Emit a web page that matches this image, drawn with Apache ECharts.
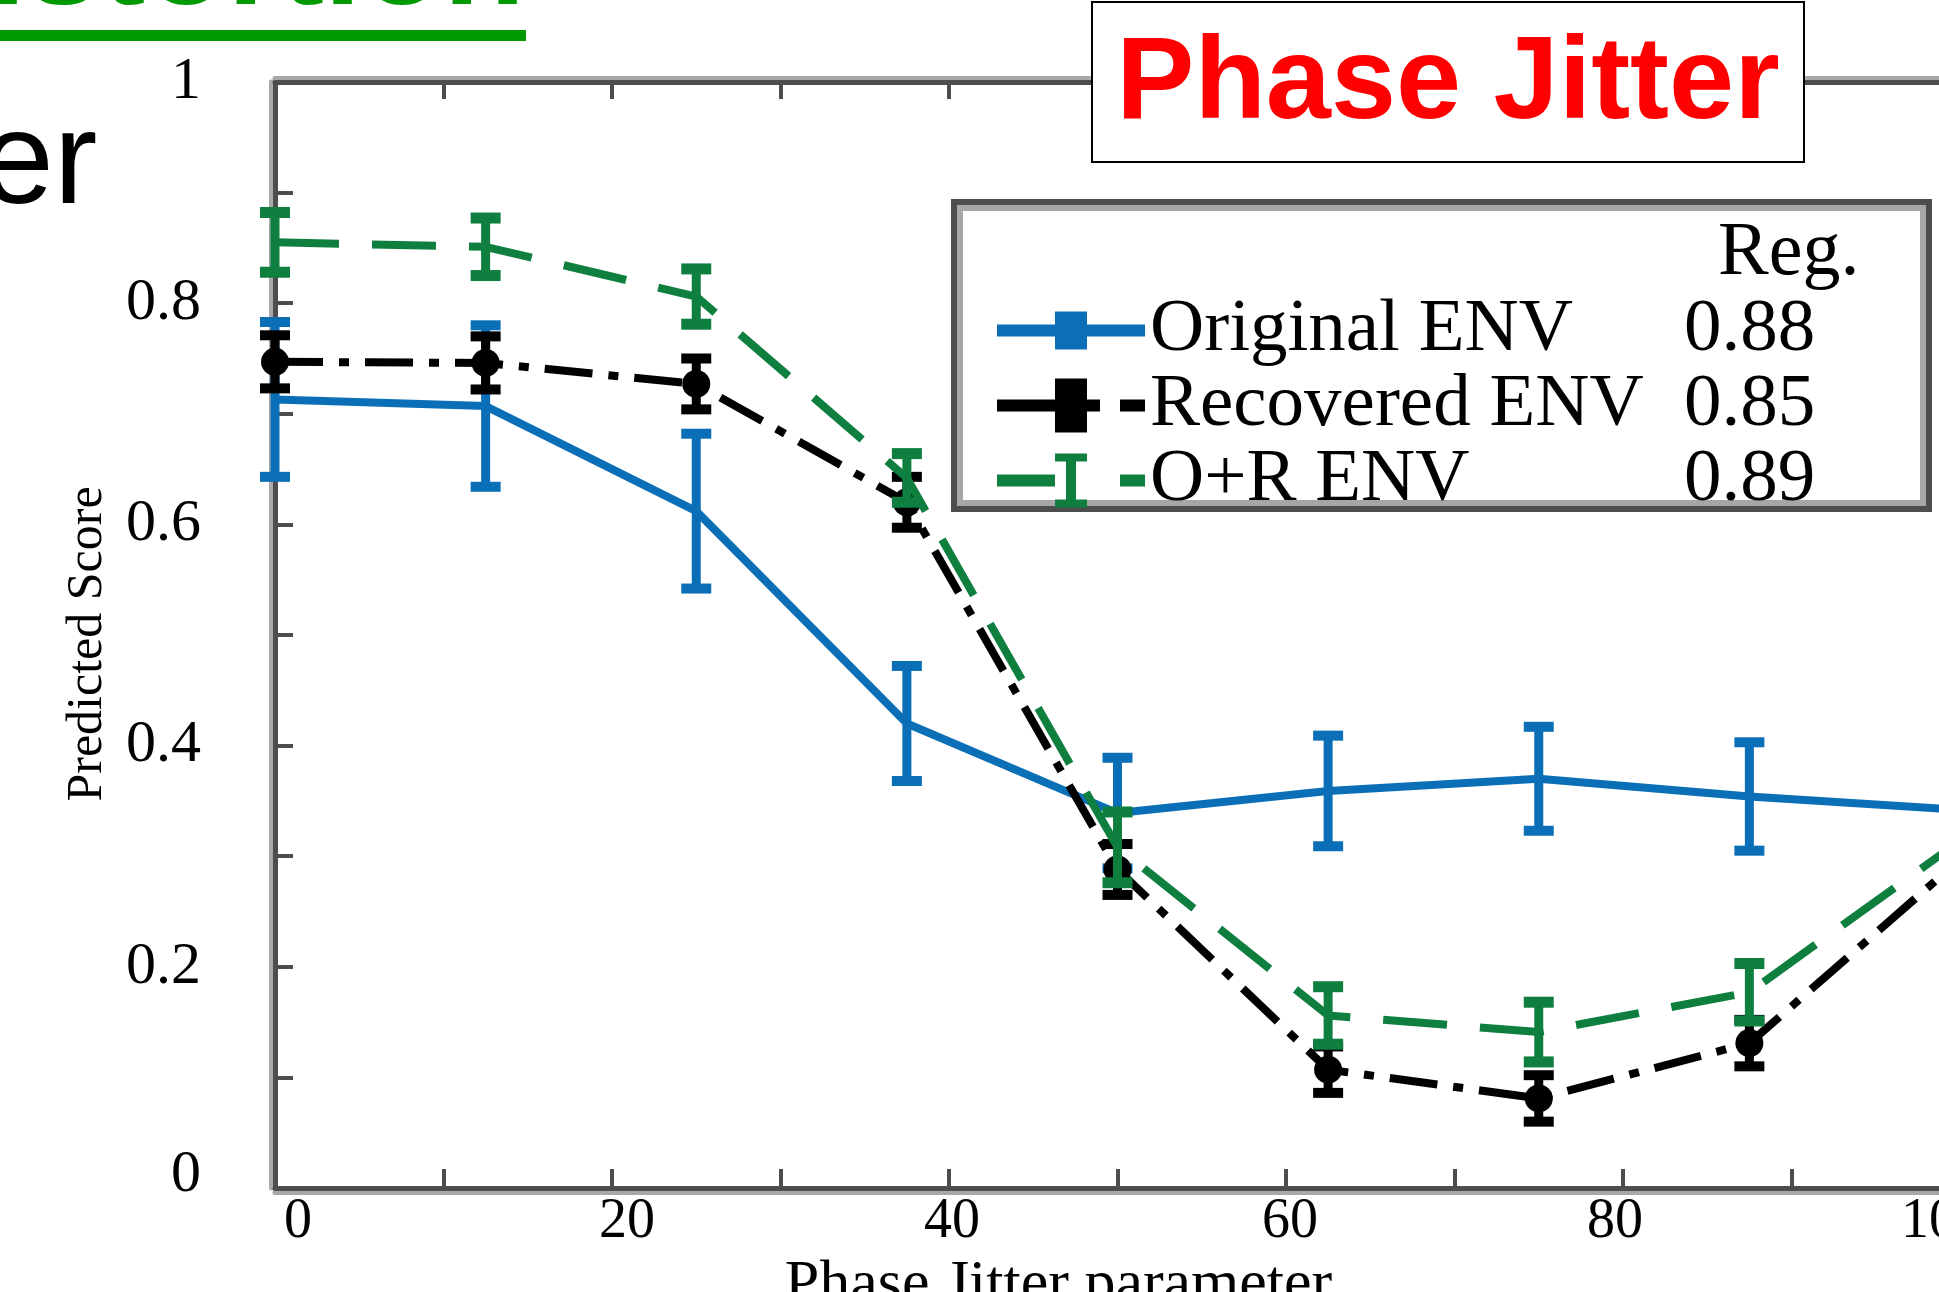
<!DOCTYPE html>
<html>
<head>
<meta charset="utf-8">
<title>Phase Jitter</title>
<script src="https://cdn.jsdelivr.net/npm/echarts/dist/echarts.min.js"></script>
<style>
    html,body{margin:0;padding:0;background:#fff;}
    #chart{width:1939px;height:1292px;}
</style>
</head>
<body>
<div id="chart"></div>
<script>
// phase jitter parameter values
const jitter = [0, 12.5, 25, 37.5, 50, 62.5, 75, 87.5, 100];

// predicted score (mean) and half error bar per series
const originalEnv = [0.713, 0.707, 0.612, 0.420, 0.339, 0.359, 0.370, 0.354, 0.342];
const originalErr = [0.070, 0.073, 0.070, 0.052, 0.050, 0.050, 0.047, 0.049, 0.050];
const recoveredEnv = [0.747, 0.746, 0.727, 0.620, 0.288, 0.107, 0.081, 0.131, 0.297];
const recoveredErr = [0.024, 0.024, 0.023, 0.023, 0.023, 0.021, 0.021, 0.021, 0.022];
const orEnv = [0.855, 0.851, 0.806, 0.642, 0.308, 0.156, 0.141, 0.177, 0.314];
const orErr = [0.027, 0.026, 0.025, 0.022, 0.032, 0.026, 0.027, 0.026, 0.025];

const seriesNames = ["Original ENV", "Recovered ENV", "O+R ENV"];
const regValues = ["0.88", "0.85", "0.89"];

const BLUE = "#0b6fb7";
const BLACK = "#000000";
const GREEN = "#0f7f40";
const SERIF = "Liberation Serif";

// legend samples (line + marker), drawn in a 148 x 54 box
const legendIcons = [
    "path://M0,21H148V33H0Z M58,8H90V46H58Z",
    "path://M0,21H103V33H0Z M58,0H90V54H58Z M123,21H148V33H123Z",
    "path://M0,21H58V33H0Z M58,0H90V8H58Z M69,8H79V46H69Z M58,46H90V54H58Z M123,21H148V33H123Z"
];

let myChart = echarts.init(document.getElementById("chart"));

function pairs(ys) {
    return jitter.map((x, i) => [x, ys[i]]);
}
function bars(ys, errs) {
    return jitter.map((x, i) => [x, ys[i] - errs[i], ys[i] + errs[i]]);
}
function errorBar(color, capW, capH, stemW) {
    return function (params, api) {
        let x = api.value(0);
        let lo = api.coord([x, api.value(1)]);
        let hi = api.coord([x, api.value(2)]);
        return {
            type: "group",
            children: [
                {type: "line", shape: {x1: lo[0], y1: lo[1], x2: hi[0], y2: hi[1]}, style: {stroke: color, lineWidth: stemW}},
                {type: "rect", shape: {x: hi[0] - capW / 2, y: hi[1] - capH / 2, width: capW, height: capH}, style: {fill: color}},
                {type: "rect", shape: {x: lo[0] - capW / 2, y: lo[1] - capH / 2, width: capW, height: capH}, style: {fill: color}}
            ]
        };
    };
}

const axisLineStyle = {color: "#4d4d4d", width: 5, shadowColor: "#a8a8a8", shadowBlur: 0};
const xRich = {
    r0: {padding: [0, 0, 0, 46]},
    r20: {padding: [0, 0, 0, 30]},
    r40: {padding: [0, 0, 0, 6]},
    r60: {padding: [0, 0, 0, 8]},
    r80: {padding: [0, 16, 0, 0]},
    r100: {padding: [0, 34, 0, 0]}
};
Object.keys(xRich).forEach(k => {
    xRich[k].fontSize = 56;
    xRich[k].fontFamily = SERIF;
    xRich[k].color = "#000";
});

myChart.setOption({
    animation: false,
    backgroundColor: "#fff",
    grid: {left: 275, top: 82, width: 1685, height: 1106, outerBoundsMode: "none", containLabel: false},
    xAxis: [
        {
            type: "value",
            min: 0,
            max: 100,
            interval: 10,
            name: "Phase Jitter parameter",
            nameLocation: "middle",
            nameGap: 52,
            nameTextStyle: {fontFamily: SERIF, fontSize: 62, color: "#000", padding: [0, 118, 0, 0]},
            axisLine: {lineStyle: Object.assign({}, axisLineStyle, {shadowOffsetY: 4})},
            axisTick: {inside: true, length: 19, lineStyle: {color: "#4d4d4d", width: 4}},
            axisLabel: {
                margin: 6,
                fontFamily: SERIF,
                fontSize: 56,
                color: "#000",
                formatter: v => (v % 20 === 0 ? "{r" + v + "|" + v + "}" : ""),
                rich: xRich
            },
            splitLine: {show: false}
        },
        {
            type: "value",
            position: "top",
            min: 0,
            max: 100,
            interval: 10,
            axisLine: {lineStyle: Object.assign({}, axisLineStyle, {shadowOffsetY: -4})},
            axisTick: {inside: true, length: 17, lineStyle: {color: "#4d4d4d", width: 4}},
            axisLabel: {show: false},
            splitLine: {show: false}
        }
    ],
    yAxis: {
        type: "value",
        min: 0,
        max: 1,
        interval: 0.1,
        name: "Predicted Score",
        nameLocation: "middle",
        nameRotate: 90,
        nameGap: 162,
        nameTextStyle: {fontFamily: SERIF, fontSize: 50, color: "#000", padding: [0, 18, 0, 0]},
        axisLine: {lineStyle: Object.assign({}, axisLineStyle, {shadowOffsetX: -4})},
        axisTick: {inside: true, length: 18, lineStyle: {color: "#4d4d4d", width: 4}},
        axisLabel: {
            margin: 74,
            fontFamily: SERIF,
            fontSize: 60,
            color: "#000",
            formatter: function (v) {
                let k = Math.round(v * 10);
                if (k % 2) return "";
                if (k === 0) return "{z|0}";
                if (k === 10) return "1";
                return (k / 10).toFixed(1);
            },
            rich: {z: {fontFamily: SERIF, fontSize: 60, color: "#000", padding: [0, 0, 26, 0]}}
        },
        splitLine: {show: false}
    },
    legend: {
        data: seriesNames.map((name, i) => ({name: name, icon: legendIcons[i]})),
        orient: "vertical",
        left: 951,
        top: 199,
        z: 6,
        padding: [94, 114, 0, 46],
        itemGap: 0,
        itemWidth: 148,
        itemHeight: 54,
        selectedMode: false,
        formatter: function (name) {
            return "{n|" + name + "}{v|" + regValues[seriesNames.indexOf(name)] + "}";
        },
        textStyle: {
            rich: {
                n: {width: 534, fontFamily: SERIF, fontSize: 75, lineHeight: 73, color: "#000"},
                v: {fontFamily: SERIF, fontSize: 75, lineHeight: 73, color: "#000"}
            }
        }
    },
    graphic: [
        {type: "text", z: 10, x: 525, y: -33, style: {text: "Distortion", fill: "#009a00", font: "bold 134px 'Liberation Sans'", align: "right", verticalAlign: "middle"}},
        {type: "rect", z: 10, shape: {x: 0, y: 30, width: 526, height: 11}, style: {fill: "#009a00"}},
        {type: "text", z: 10, x: -19, y: 167, style: {text: "er", fill: "#000", font: "131px 'Liberation Sans'", align: "left", verticalAlign: "middle"}},
        {type: "rect", z: 10, shape: {x: 1092, y: 2, width: 712, height: 160}, style: {fill: "#fff", stroke: "#000", lineWidth: 2}},
        {type: "text", z: 11, x: 1448, y: 86, style: {text: "Phase Jitter", fill: "#ff0000", font: "bold 117px 'Liberation Sans'", align: "center", verticalAlign: "middle"}},
        // legend frame: dark outer edge with a light inner band
        {type: "rect", z: 5, shape: {x: 957, y: 205, width: 969, height: 301}, style: {fill: "#fff", stroke: "#a6a6a6", lineWidth: 12}},
        {type: "rect", z: 5, shape: {x: 954, y: 202, width: 975, height: 307}, style: {fill: null, stroke: "#4d4d4d", lineWidth: 6}},
        {type: "text", z: 11, x: 1718, y: 216, style: {text: "Reg.", fill: "#000", font: "76px 'Liberation Serif'", align: "left", verticalAlign: "top"}}
    ],
    series: [
        {
            name: "Original ENV",
            type: "line",
            data: pairs(originalEnv),
            symbol: "none",
            z: 2,
            lineStyle: {color: BLUE, width: 8},
            itemStyle: {color: BLUE}
        },
        {
            name: "Original ENV bars",
            type: "custom",
            data: bars(originalEnv, originalErr),
            encode: {x: 0, y: [1, 2]},
            z: 2,
            renderItem: errorBar(BLUE, 30, 10, 9)
        },
        {
            name: "Recovered ENV",
            type: "line",
            data: pairs(recoveredEnv),
            symbol: "circle",
            symbolSize: 28,
            z: 3,
            lineStyle: {color: BLACK, width: 8, type: [48, 16, 10, 16]},
            itemStyle: {color: BLACK}
        },
        {
            name: "Recovered ENV bars",
            type: "custom",
            data: bars(recoveredEnv, recoveredErr),
            encode: {x: 0, y: [1, 2]},
            z: 3,
            renderItem: errorBar(BLACK, 30, 10, 9)
        },
        {
            name: "O+R ENV",
            type: "line",
            data: pairs(orEnv),
            symbol: "none",
            z: 4,
            lineStyle: {color: GREEN, width: 8, type: [64, 33]},
            itemStyle: {color: GREEN}
        },
        {
            name: "O+R ENV bars",
            type: "custom",
            data: bars(orEnv, orErr),
            encode: {x: 0, y: [1, 2]},
            z: 4,
            renderItem: errorBar(GREEN, 30, 11, 9)
        }
    ]
});
</script>
</body>
</html>
